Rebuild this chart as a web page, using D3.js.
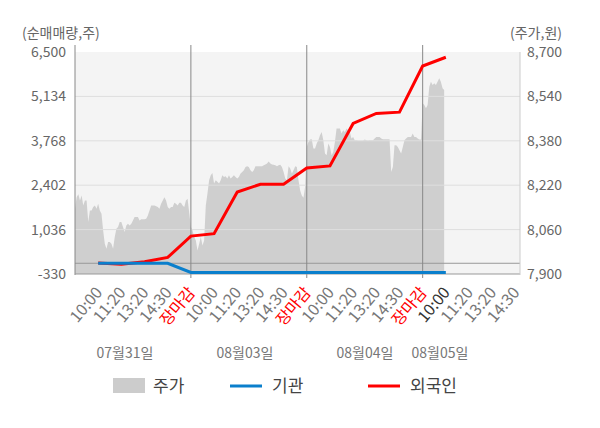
<!DOCTYPE html>
<html>
<head>
<meta charset="utf-8">
<script src="https://cdn.jsdelivr.net/npm/d3@7"></script>
<style>
  body { margin: 0; background: #fff; }
  svg { display: block; font-family: "Noto Sans CJK KR", "Noto Sans", sans-serif; }
</style>
</head>
<body>
<svg id="mainSvg" width="600" height="428"></svg>
<script>
// ---- data ----
var timeLabels = ["10:00", "11:20", "13:20", "14:30", "장마감"];
var dateLabels = ["07월31일", "08월03일", "08월04일", "08월05일"];
var leftTicks = [-330, 1036, 2402, 3768, 5134, 6500];
var rightTicks = [7900, 8060, 8220, 8380, 8540, 8700];

// cumulative net buying (shares), one value per time slot
var foreignNet = [10, -30, 50, 180, 836, 910, 2193, 2430, 2430, 2933, 2995, 4302, 4610, 4650, 6069, 6338];
var instNet = [0, 0, 0, 0, -280, -280, -280, -280, -280, -280, -280, -280, -280, -280, -280, -280];

// intraday price (won), one array per trading day
var priceDay1 = [8135, 8177, 8187, 8165, 8183, 8147, 8165, 8165, 8087, 8129, 8129, 8141, 8147, 8135, 8153, 8129,
  8117, 8057, 8009, 7991, 8015, 8015, 8009, 7991, 8033, 8063, 8069, 8087, 8087, 8069, 8051, 8075, 8081, 8075,
  8081, 8093, 8105, 8105, 8105, 8093, 8097, 8097, 8097, 8099, 8111, 8129, 8147, 8147, 8147, 8144, 8141, 8135,
  8153, 8165, 8177, 8165, 8141, 8135, 8141, 8141, 8157, 8153, 8147, 8157, 8157, 8147, 8141, 8165, 8171];
var priceDay2 = [8069, 8057, 8033, 8021, 7985, 8009, 8033, 8003, 8021, 8147, 8189, 8238, 8256, 8264, 8226, 8238,
  8232, 8226, 8238, 8256, 8250, 8252, 8244, 8256, 8244, 8250, 8256, 8250, 8244, 8250, 8262, 8268, 8274, 8286,
  8288, 8286, 8274, 8268, 8274, 8288, 8288, 8288, 8288, 8288, 8292, 8295, 8298, 8305, 8298, 8295, 8294, 8292,
  8288, 8292, 8294, 8286, 8268, 8244, 8238, 8288, 8280, 8262, 8274, 8288, 8286, 8238, 8201, 8183, 8175, 8214];
var priceDay3 = [8358, 8376, 8385, 8386, 8352, 8352, 8370, 8382, 8400, 8412, 8382, 8334, 8328, 8370, 8358, 8328,
  8340, 8376, 8424, 8424, 8424, 8406, 8418, 8412, 8424, 8418, 8412, 8388, 8394, 8382, 8382, 8380, 8380, 8380,
  8380, 8385, 8382, 8380, 8382, 8382, 8382, 8388, 8394, 8394, 8394, 8388, 8386, 8386, 8386, 8386, 8386, 8268,
  8286, 8364, 8364, 8358, 8346, 8334, 8358, 8382, 8388, 8394, 8394, 8394, 8406, 8394, 8394, 8388, 8385, 8385];
var priceDay4 = [8515, 8509, 8497, 8509, 8575, 8593, 8581, 8587, 8581, 8593, 8605, 8593, 8569, 8563];

// ---- layout ----
var svg = d3.select("#mainSvg");
var plotL = 75, plotR = 520, plotT = 52, plotB = 274;
var slotsPerDay = timeLabels.length;
var ptsPerDay = 70; // price samples in one full session

var x = d3.scaleLinear().domain([0, 19.2]).range([plotL, plotR]);
var yL = d3.scaleLinear().domain([leftTicks[0], leftTicks[leftTicks.length - 1]]).range([plotB, plotT]);
var yR = d3.scaleLinear().domain([rightTicks[0], rightTicks[rightTicks.length - 1]]).range([plotB, plotT]);

// plot background
svg.append("rect").attr("x", plotL).attr("y", plotT).attr("width", plotR - plotL).attr("height", plotB - plotT)
  .style("fill", "#f4f4f4");

// price area, each day placed in its own block of slots
var pricePts = [];
[priceDay1, priceDay2, priceDay3, priceDay4].forEach(function (day, d) {
  day.forEach(function (v, i) {
    pricePts.push({ p: d * slotsPerDay + i * slotsPerDay / ptsPerDay, v: v });
  });
});
svg.append("path").datum(pricePts)
  .attr("d", d3.area().x(function (d) { return x(d.p); }).y0(plotB).y1(function (d) { return yR(d.v); }))
  .style("fill", "#cfcfcf");

// horizontal grid (on top of the area)
svg.selectAll(".grid").data(leftTicks.slice(1, -1)).enter().append("line").attr("class", "grid")
  .attr("x1", plotL).attr("x2", plotR).attr("y1", function (d) { return yL(d); }).attr("y2", function (d) { return yL(d); })
  .style("stroke", "#dedede").style("stroke-width", 1);

// zero line
svg.append("line").attr("x1", plotL).attr("x2", plotR).attr("y1", yL(0)).attr("y2", yL(0))
  .style("stroke", "#999").style("stroke-width", 1);

// day separators at each close
var closes = d3.range(1, dateLabels.length).map(function (d) { return d * slotsPerDay; });
svg.selectAll(".sep").data(closes).enter().append("line").attr("class", "sep")
  .attr("x1", function (d) { return x(d); }).attr("x2", function (d) { return x(d); })
  .attr("y1", 45).attr("y2", plotB + 4).style("stroke", "#888").style("stroke-width", 1);

// axis lines
svg.append("line").attr("x1", plotL).attr("x2", plotL).attr("y1", 45).attr("y2", plotB + 1).style("stroke", "#888");
svg.append("line").attr("x1", plotL).attr("x2", plotR).attr("y1", plotB).attr("y2", plotB).style("stroke", "#999");
svg.append("line").attr("x1", plotR).attr("x2", plotR).attr("y1", plotT).attr("y2", plotB + 1).style("stroke", "#ccc");

// net buying lines: foreign first, institution drawn on top
var line = d3.line().x(function (d, i) { return x(i + 1); }).y(function (d) { return yL(d); });
svg.append("path").datum(foreignNet).attr("d", line)
  .style("fill", "none").style("stroke", "#ff0000").style("stroke-width", 3);
svg.append("path").datum(instNet).attr("d", line)
  .style("fill", "none").style("stroke", "#0a7fcc").style("stroke-width", 3);

// left / right tick labels
svg.selectAll(".lt").data(leftTicks).enter().append("text").attr("class", "lt")
  .attr("x", 66).attr("y", function (d) { return yL(d); }).attr("dy", "0.35em")
  .attr("text-anchor", "end").style("font-size", "14px").style("fill", "#666")
  .text(function (d) { return d3.format(",")(d).replace("−", "-"); });
svg.selectAll(".rt").data(rightTicks).enter().append("text").attr("class", "rt")
  .attr("x", 527).attr("y", function (d) { return yR(d); }).attr("dy", "0.35em")
  .attr("text-anchor", "start").style("font-size", "14px").style("fill", "#666")
  .text(function (d) { return d3.format(",")(d); });

// axis titles
svg.append("text").attr("x", 22).attr("y", 33).attr("dy", "0.35em").style("font-size", "14px").style("fill", "#666")
  .text("(순매매량,주)");
svg.append("text").attr("x", 562).attr("y", 33).attr("dy", "0.35em").attr("text-anchor", "end")
  .style("font-size", "14px").style("fill", "#666").text("(주가,원)");

// rotated time labels
var nowSlot = foreignNet.length;
var xTicks = d3.range(1, dateLabels.length * slotsPerDay);
svg.selectAll(".xt").data(xTicks).enter().append("text").attr("class", "xt")
  .attr("transform", function (d) { return "translate(" + (x(d) + 5) + "," + (plotB + 19) + ") rotate(-50)"; })
  .attr("text-anchor", "end").style("font-size", "16px")
  .style("fill", function (d) {
    var lab = timeLabels[(d - 1) % slotsPerDay];
    if (lab === "장마감") return "#ff0000";
    return d === nowSlot ? "#333" : "#777";
  })
  .text(function (d) { return timeLabels[(d - 1) % slotsPerDay]; });

// date labels under each day
var dateX = [125, 245, 365, 440];
svg.selectAll(".dl").data(dateLabels).enter().append("text").attr("class", "dl")
  .attr("x", function (d, i) { return dateX[i]; }).attr("y", 353).attr("dy", "0.35em")
  .attr("text-anchor", "middle").style("font-size", "14px").style("fill", "#777")
  .text(function (d) { return d; });

// legend
var lg = svg.append("g").attr("transform", "translate(0,386)");
lg.append("rect").attr("x", 113).attr("y", -8).attr("width", 32).attr("height", 15).style("fill", "#cccccc");
lg.append("text").attr("x", 153).attr("dy", "0.35em").style("font-size", "17px").style("fill", "#444").text("주가");
lg.append("line").attr("x1", 230).attr("x2", 262).style("stroke", "#0a7fcc").style("stroke-width", 3);
lg.append("text").attr("x", 272).attr("dy", "0.35em").style("font-size", "17px").style("fill", "#444").text("기관");
lg.append("line").attr("x1", 368).attr("x2", 400).style("stroke", "#ff0000").style("stroke-width", 3);
lg.append("text").attr("x", 410).attr("dy", "0.35em").style("font-size", "17px").style("fill", "#444").text("외국인");
</script>
</body>
</html>
